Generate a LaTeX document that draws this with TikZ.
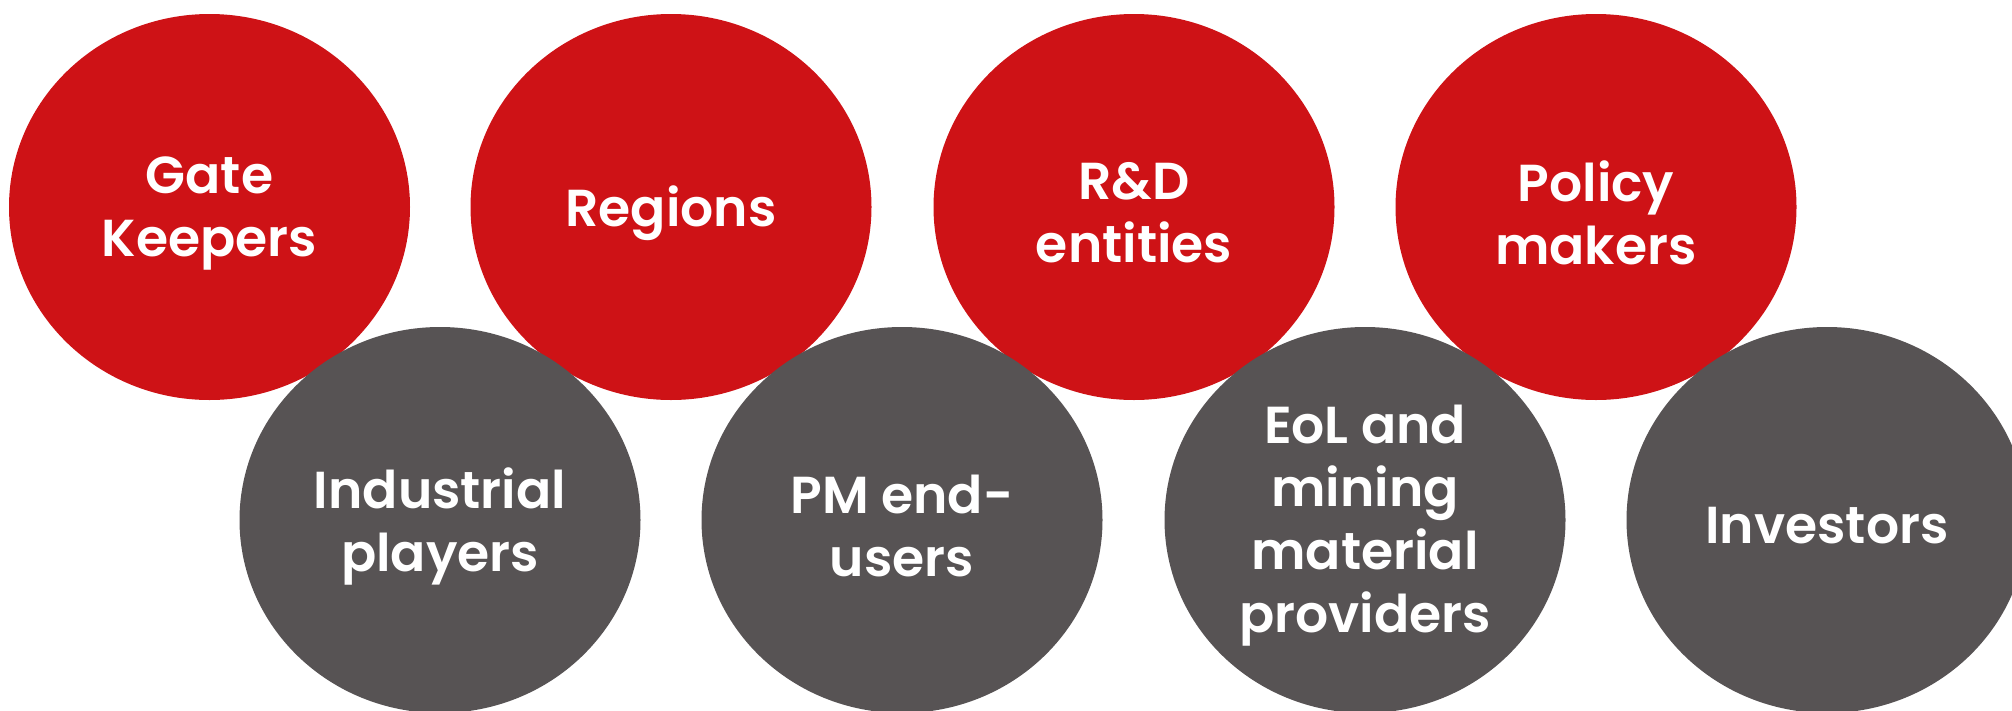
\documentclass[tikz,border=0pt]{standalone}
\usepackage{fontspec}
\setmainfont{Poppins}[BoldFont={Poppins SemiBold}]
\usetikzlibrary{shapes.geometric}
\definecolor{cred}{HTML}{CE1216}
\definecolor{cgray}{HTML}{575354}
\tikzset{
  blob/.style={ellipse, minimum width=401pt, minimum height=386pt, inner sep=0pt, draw=none},
  redblob/.style={blob, fill=cred},
  grayblob/.style={blob, fill=cgray},
  lbl/.style={text=white, align=center, yshift=-6pt, font=\fontsize{52}{63}\selectfont\bfseries}
}
\begin{document}
\begin{tikzpicture}[x=1pt,y=-1pt]
\useasboundingbox (0,0) rectangle (2012,710);
\clip (0,0) rectangle (2012,710);
\node[redblob] (r1) at (209.5,207) {};
\node[redblob] (r2) at (671,207) {};
\node[redblob] (r3) at (1134,207) {};
\node[redblob] (r4) at (1596,207) {};
\node[grayblob] (g1) at (440,520) {};
\node[grayblob] (g2) at (902,520) {};
\node[grayblob] (g3) at (1365,520) {};
\node[grayblob] (g4) at (1827,520) {};
\node[lbl] (t1) at (r1.center) {Gate\\Keepers};
\node[lbl] (t2) at (r2.center) {Regions};
\node[lbl] (t3) at (r3.center) {R\&D\\entities};
\node[lbl] (t4) at (r4.center) {Policy\\makers};
\node[lbl] (t5) at (g1.center) {Industrial\\players};
\node[lbl] (t6) at (g2.center) {PM end-\\users};
\node[lbl] (t7) at (g3.center) {EoL and\\mining\\material\\providers};
\node[lbl] (t8) at (g4.center) {Investors};
\end{tikzpicture}
\end{document}
